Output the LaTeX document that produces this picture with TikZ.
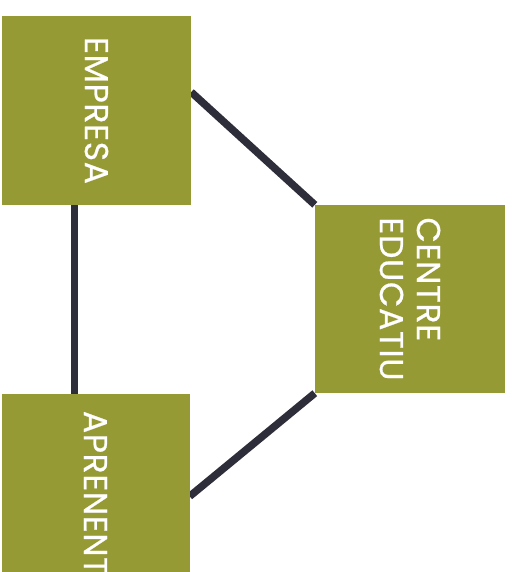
\documentclass[tikz,border=0pt]{standalone}
\usepackage{fontspec}
\setmainfont{Poppins}
\newfontfamily\lblfont{Poppins}[FakeBold=0.6,LetterSpace=2]
\usetikzlibrary{backgrounds}
\definecolor{olivebox}{RGB}{150,154,52}
\definecolor{linkcol}{RGB}{46,46,58}
\begin{document}
\begin{tikzpicture}[x=1pt,y=-1pt,
  box/.style 2 args={fill=olivebox,draw=none,minimum width=#1,minimum height=#2,inner sep=0pt},
  lbl/.style={rotate=-90,text=white,font=\lblfont\fontsize{33}{37}\selectfont,align=left,inner sep=0pt},
  link/.style={draw=linkcol,line width=7.5pt}]
\useasboundingbox (0,0) rectangle (512,572);
\begin{scope}
\clip (0,0) rectangle (512,572);
\node[box={189pt}{189pt}] (emp) at (96.5,110.5) {};
\node[box={190pt}{188pt}] (cen) at (410,299) {};
\node[box={188pt}{198pt}] (apr) at (95.5,493) {};
\node[lbl] (empl) at (emp.center) {EMPRESA};
\node[lbl] (cenl) at (cen.center) {CENTRE\\EDUCATIU};
\node[lbl] (aprl) at (apr.center) {APRENENT};
\end{scope}
\begin{scope}[on background layer]
\draw[link] (emp.south -| 74.5,0) -- (apr.north -| 74.5,0);
\draw[link] (emp.11.7) -- (cen.north west);
\draw[link] (cen.south west) -- (apr.-2.5);
\end{scope}
\end{tikzpicture}
\end{document}
